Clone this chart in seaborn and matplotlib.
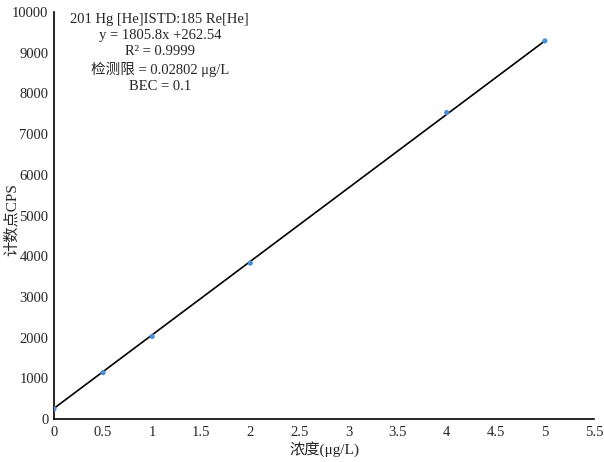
import numpy as np
import pandas as pd
import matplotlib
matplotlib.use('Agg')
import matplotlib.pyplot as plt
import seaborn as sns

sns.set_style("white")
plt.rcParams['font.family'] = ['Liberation Serif', 'Noto Sans CJK SC', 'DejaVu Sans']

# 数据
conc = [0, 0.5, 1, 2, 4, 5]
cps = [250, 1140, 2030, 3830, 7530, 9290]
slope = 1805.8
intercept = 262.54
fit_x = [0, 5]

df = pd.DataFrame({"conc": conc, "cps": cps})
fit_df = pd.DataFrame({"conc": fit_x, "cps": [slope * v + intercept for v in fit_x]})

fig = plt.figure(figsize=(6.04, 4.62), dpi=100)
ax = fig.add_axes([0.0894, 0.093, 0.894, 0.881])

sns.lineplot(data=fit_df, x="conc", y="cps", color="black", linewidth=1.2, ax=ax, zorder=2)
sns.scatterplot(data=df, x="conc", y="cps", color="#4a8fd6", s=14, edgecolor="none", ax=ax, zorder=3)

ax.set_xlim(0, 5.5)
ax.set_ylim(0, 10000)
ax.set_xticks(np.arange(0, 5.51, 0.5))
ax.set_xticklabels(["0", "0.5", "1", "1.5", "2", "2.5", "3", "3.5", "4", "4.5", "5", "5.5"])
ax.set_yticks(np.arange(0, 10001, 1000))
ax.tick_params(axis="y", length=0, labelsize=10.5, pad=4)
ax.tick_params(axis="x", length=0, labelsize=10.5, pad=5)
for s in ["top", "right"]:
    ax.spines[s].set_visible(False)
for s in ["left", "bottom"]:
    ax.spines[s].set_color("black")
    ax.spines[s].set_linewidth(1.2)

ax.set_xlabel("浓度(μg/L)", fontsize=11)
ax.set_ylabel("计数点CPS", fontsize=11)
ax.xaxis.set_label_coords(0.5, -0.055)
ax.yaxis.set_label_coords(-0.066, 0.49)

info = "201 Hg [He]ISTD:185 Re[He]\ny = 1805.8x +262.54\nR² = 0.9999\n检测限 = 0.02802 μg/L\nBEC = 0.1"
ax.text(0.196, 0.998, info, transform=ax.transAxes, ha="center", va="top",
        fontsize=10.5, linespacing=1.3)

plt.savefig("out.png", dpi=100)
